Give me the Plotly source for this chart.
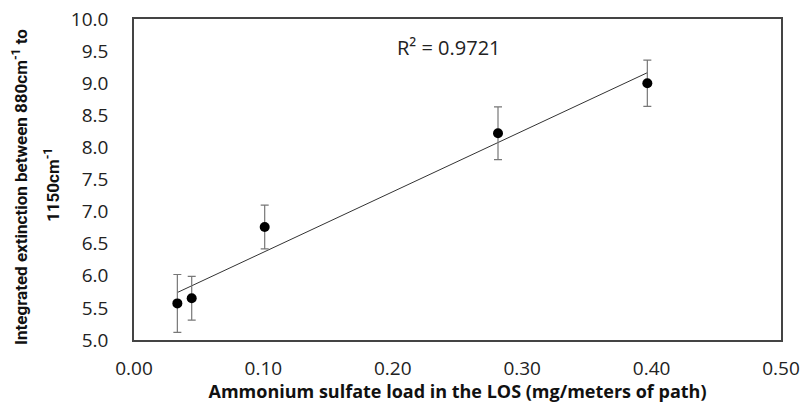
import numpy as np
import plotly.graph_objects as go

load = [0.0335, 0.0446, 0.101, 0.2813, 0.3967]
extinction = [5.57, 5.65, 6.76, 8.22, 9.00]
err = [0.45, 0.34, 0.34, 0.41, 0.36]
r2_text = "R² = 0.9721"
y_title_1 = "<b>Integrated extinction between 880cm<sup>-1</sup> to</b>"
y_title_2 = "<b>1150cm<sup>-1</sup></b>"
x_title = "<b>Ammonium sulfate load in the LOS (mg/meters of path)</b>"

slope, intercept = np.polyfit(load, extinction, 1)
fit_x = [min(load), max(load)]
fit_y = [slope * v + intercept for v in fit_x]

fig = go.Figure()
fig.add_trace(go.Scatter(x=fit_x, y=fit_y, mode="lines",
                         line=dict(color="#333333", width=1), showlegend=False))
fig.add_trace(go.Scatter(x=load, y=extinction, mode="markers",
                         marker=dict(color="black", size=10),
                         error_y=dict(type="data", array=err, color="#777777",
                                      thickness=1.2, width=4),
                         showlegend=False))

fig.add_annotation(x=0.2017, y=9.56, xref="x", yref="y", text=r2_text, showarrow=False,
                   xanchor="left", yanchor="middle",
                   font=dict(family="Open Sans", size=20, color="#222"))

ytfont = dict(family="Roboto", size=17, color="#111")
fig.add_annotation(x=-0.1762, y=0.4766, xref="paper", yref="paper", text=y_title_1,
                   showarrow=False, textangle=-90, xanchor="center", yanchor="middle",
                   font=ytfont)
fig.add_annotation(x=-0.1267, y=0.483, xref="paper", yref="paper", text=y_title_2,
                   showarrow=False, textangle=-90, xanchor="center", yanchor="middle",
                   font=ytfont)

fig.update_layout(
    width=808, height=403,
    margin=dict(l=134, r=27, t=19, b=63, autoexpand=False),
    paper_bgcolor="white", plot_bgcolor="white",
    xaxis=dict(range=[0, 0.5], tickvals=[0, 0.1, 0.2, 0.3, 0.4, 0.5],
               tickformat=".2f", showgrid=False, zeroline=False,
               showline=True, mirror=True, linecolor="#444", linewidth=1.5,
               ticks="outside", ticklen=10, tickcolor="rgba(0,0,0,0)",
               tickfont=dict(family="Open Sans", size=19, color="#222"),
               title=dict(text=x_title,
                          font=dict(family="Open Sans", size=18, color="#111"),
                          standoff=3)),
    yaxis=dict(range=[5, 10], tickvals=[5, 5.5, 6, 6.5, 7, 7.5, 8, 8.5, 9, 9.5, 10],
               tickformat=".1f", showgrid=False, zeroline=False,
               showline=True, mirror=True, linecolor="#444", linewidth=1.5,
               ticks="outside", ticklen=20, tickcolor="rgba(0,0,0,0)",
               tickfont=dict(family="Open Sans", size=19, color="#222")),
)

fig.write_html("out.html")
